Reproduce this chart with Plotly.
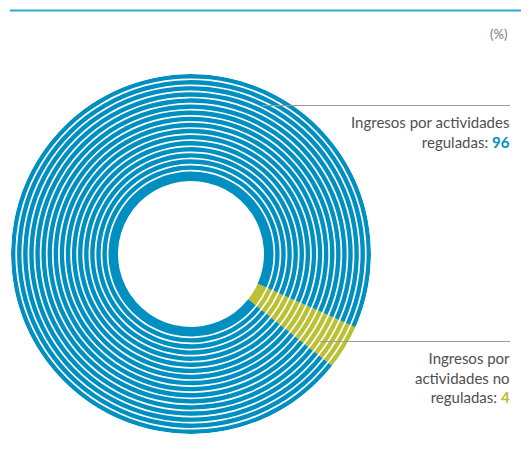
import plotly.graph_objects as go

# ---- data ----
categories = ["Ingresos por actividades no reguladas", "Ingresos por actividades reguladas"]
values = [4, 96]
label_texts = ["Ingresos por<br>actividades no<br>reguladas: ", "Ingresos por actividades<br>reguladas: "]

# ---- style ----
OFF = 8                    # browser body margin
W, H = 529 - OFF, 452 - OFF
colors = ["#bcc033", "#008fc1"]
CX, CY = 191, 254          # donut center (px in window)
R_OUT, R_IN = 180, 73      # radii in px
INNER_BAND = 9.5           # thicker innermost band
N_RINGS = 16               # thin rings outside inner band
GAP = 1.7                  # white gap between rings
START = 24                 # first slice starts this many deg clockwise from 3 o'clock

total = sum(values)
widths = [v / total * 360 for v in values]
thetas = []
acc = START
for w in widths:
    thetas.append(acc + w / 2)
    acc += w

bands = [(R_IN, R_IN + INNER_BAND)]
step = (R_OUT - R_IN - INNER_BAND) / N_RINGS
for i in range(N_RINGS):
    b0 = R_IN + INNER_BAND + i * step + GAP
    bands.append((b0, R_IN + INNER_BAND + (i + 1) * step))

fig = go.Figure()
for (b0, b1) in bands:
    fig.add_trace(go.Barpolar(
        r=[b1 - b0] * len(values),
        base=[b0] * len(values),
        theta=thetas,
        width=widths,
        marker=dict(color=colors, line=dict(width=0)),
        showlegend=False,
        hoverinfo="skip",
    ))

def px(x):
    return (x - OFF) / W

def py(y):
    return 1 - (y - OFF) / H

fig.update_layout(
    width=W, height=H,
    margin=dict(l=0, r=0, t=0, b=0),
    paper_bgcolor="white",
    plot_bgcolor="white",
    polar=dict(
        domain=dict(x=[px(CX - R_OUT), px(CX + R_OUT)],
                    y=[py(CY + R_OUT), py(CY - R_OUT)]),
        bgcolor="white",
        bargap=0,
        radialaxis=dict(visible=False, range=[0, R_OUT]),
        angularaxis=dict(visible=False, direction="clockwise", rotation=0),
    ),
    font=dict(family="Lato", color="#505050"),
)

# top rule
fig.add_shape(type="line", xref="paper", yref="paper",
              x0=px(10), x1=1, y0=py(10.5), y1=py(10.5),
              line=dict(color="#33a6d6", width=2))
# leader lines
fig.add_shape(type="line", xref="paper", yref="paper",
              x0=px(262), x1=px(510), y0=py(105.5), y1=py(105.5),
              line=dict(color="#9a9a9a", width=1.2))
fig.add_shape(type="line", xref="paper", yref="paper",
              x0=px(320), x1=px(510), y0=py(341.5), y1=py(341.5),
              line=dict(color="#9a9a9a", width=1.2))

fig.add_annotation(text="(%)", xref="paper", yref="paper", x=px(509), y=py(34),
                   xanchor="right", yanchor="middle", showarrow=False,
                   font=dict(size=13, color="#7a7a7a"))

fig.add_annotation(
    text=label_texts[1] + f"<b><span style='color:{colors[1]}'>{values[1]}</span></b>",
    xref="paper", yref="paper", x=px(512), y=py(111), xanchor="right", yanchor="top",
    align="right", showarrow=False, font=dict(size=15, color="#505050"))

fig.add_annotation(
    text=label_texts[0] + f"<b><span style='color:{colors[0]}'>{values[0]}</span></b>",
    xref="paper", yref="paper", x=px(512), y=py(347), xanchor="right", yanchor="top",
    align="right", showarrow=False, font=dict(size=15, color="#505050"))

fig.write_html("out.html")
